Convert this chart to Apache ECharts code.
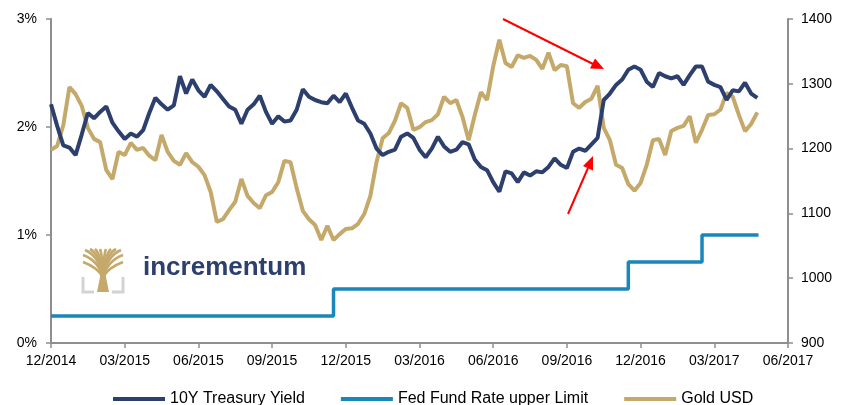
<!DOCTYPE html>
<html>
<head>
<meta charset="utf-8">
<script src="https://cdn.jsdelivr.net/npm/echarts@6/dist/echarts.min.js"></script>
<style>
  html, body { margin: 0; padding: 0; background: #fff; }
  #chart { width: 845px; height: 405px; }
</style>
</head>
<body>
<div id="chart"></div>
<script>
// x is counted in months from 12/2014, one sample every quarter month
const step = 0.25

const treasury = [
  2.21, 2.01, 1.83, 1.81, 1.74, 1.93, 2.13, 2.08, 2.14, 2.19,
  2.04, 1.96, 1.89, 1.94, 1.91, 1.97, 2.13, 2.27, 2.21, 2.16,
  2.20, 2.47, 2.31, 2.44, 2.34, 2.28, 2.39, 2.33, 2.26, 2.19,
  2.16, 2.03, 2.16, 2.21, 2.29, 2.14, 2.03, 2.10, 2.05, 2.06,
  2.16, 2.35, 2.28, 2.25, 2.23, 2.22, 2.29, 2.23, 2.31, 2.18,
  2.06, 2.03, 1.94, 1.80, 1.74, 1.77, 1.79, 1.91, 1.94, 1.90,
  1.79, 1.72, 1.80, 1.91, 1.82, 1.77, 1.79, 1.86, 1.84, 1.70,
  1.63, 1.60, 1.49, 1.40, 1.59, 1.57, 1.49, 1.58, 1.55, 1.59,
  1.58, 1.63, 1.71, 1.65, 1.62, 1.77, 1.80, 1.78, 1.84, 1.90,
  2.25, 2.31, 2.39, 2.44, 2.53, 2.56, 2.53, 2.42, 2.37, 2.50,
  2.47, 2.45, 2.47, 2.39, 2.48, 2.56, 2.56, 2.42, 2.39, 2.37,
  2.25, 2.34, 2.33, 2.41, 2.31, 2.27
]

const gold = [
  1198, 1204, 1236, 1295, 1284, 1266, 1232, 1215, 1210, 1167,
  1153, 1195, 1190, 1209, 1198, 1201, 1189, 1182, 1221, 1195,
  1181, 1175, 1193, 1179, 1172, 1159, 1133, 1087, 1091, 1105,
  1118, 1153, 1127, 1116, 1108, 1128, 1133, 1148, 1181, 1179,
  1139, 1104, 1091, 1082, 1059, 1081, 1059, 1068, 1076, 1077,
  1084, 1099, 1127, 1179, 1216, 1224, 1243, 1270, 1263, 1229,
  1233, 1241, 1244, 1253, 1280, 1270, 1275, 1249, 1213, 1252,
  1287, 1275, 1327, 1368, 1332, 1326, 1344, 1340, 1343, 1337,
  1323, 1348, 1321, 1329, 1327, 1270, 1263, 1272, 1277, 1297,
  1232, 1213, 1175, 1170, 1145, 1135, 1147, 1175, 1213, 1215,
  1190, 1227, 1232, 1235, 1250, 1209, 1229, 1252, 1253, 1260,
  1286, 1280, 1252, 1227, 1238, 1256
]

// fed fund upper limit: [month, rate]
const fedMonths = [0, 11.5, 23.5, 26.5, 28.8]
const fedRates = [0.25, 0.5, 0.75, 1.0, 1.0]

const leftTicks = { min: 0, max: 3, interval: 1 }
const rightTicks = { min: 900, max: 1400, interval: 100 }
const monthRange = { min: 0, max: 30, interval: 3 }

const names = ['10Y Treasury Yield', 'Fed Fund Rate upper Limit', 'Gold USD']
const colors = { treasury: '#2c3f6d', fed: '#1a87ba', gold: '#c5a96b' }

const monthLabel = (v) => {
  const k = 11 + Math.round(v)
  const m = (k % 12) + 1
  const y = 2014 + Math.floor(k / 12)
  return (m < 10 ? '0' + m : m) + '/' + y
}

const axisGray = '#8f8f8f'
const font = 'Liberation Sans, Arial, sans-serif'

const chart = echarts.init(document.getElementById('chart'))

// tree logo pieces, drawn as annotation graphics
const trunkX = 103, trunkY = 278
const branchEnds = [
  [83, 262], [83, 255], [85, 250], [90, 249], [95, 249], [100, 249],
  [106, 249], [111, 249], [116, 249], [121, 250], [123, 255], [123, 262]
]
const logo = branchEnds.map(p => ({
  type: 'bezierCurve',
  shape: {
    x1: trunkX, y1: trunkY, x2: p[0], y2: p[1],
    cpx1: trunkX + (p[0] - trunkX) * 0.2, cpy1: p[1] + 6
  },
  style: { stroke: colors.gold, lineWidth: 2.6, fill: null }
}))
logo.push(
  {
    type: 'polygon',
    shape: { points: [[97, 292], [109, 292], [107, 282], [105, 272], [101, 272], [99, 282]] },
    style: { fill: colors.gold }
  },
  {
    type: 'polyline',
    shape: { points: [[83, 277], [83, 292], [94, 292]] },
    style: { stroke: '#d3d3d3', lineWidth: 3, fill: null }
  },
  {
    type: 'polyline',
    shape: { points: [[123, 277], [123, 292], [112, 292]] },
    style: { stroke: '#d3d3d3', lineWidth: 3, fill: null }
  },
  {
    type: 'text',
    left: 143,
    top: 255,
    style: {
      text: 'incrementum',
      fontSize: 26,
      fontWeight: 'bold',
      fontFamily: font,
      fill: colors.treasury
    }
  }
)

const arrows = [
  { type: 'line', shape: { x1: 503, y1: 19, x2: 593, y2: 64 }, style: { stroke: '#ff0000', lineWidth: 2 } },
  { type: 'polygon', shape: { points: [[604, 69], [590, 68.5], [595, 58.5]] }, style: { fill: '#ff0000' } },
  { type: 'line', shape: { x1: 568, y1: 214, x2: 588, y2: 168 }, style: { stroke: '#ff0000', lineWidth: 2 } },
  { type: 'polygon', shape: { points: [[593, 156], [593, 170.5], [583, 166]] }, style: { fill: '#ff0000' } }
]

const option = {
  animation: false,
  backgroundColor: '#fff',
  grid: { left: 51, right: 57, top: 19, bottom: 62 },
  legend: {
    data: names,
    top: 386,
    left: 108,
    icon: 'rect',
    itemWidth: 52,
    itemHeight: 4,
    itemGap: 36,
    textStyle: { fontSize: 16, color: '#000', fontFamily: font }
  },
  xAxis: {
    type: 'value',
    min: monthRange.min,
    max: monthRange.max,
    interval: monthRange.interval,
    splitLine: { show: false },
    axisLine: { lineStyle: { color: axisGray, width: 2 } },
    axisTick: { show: true, length: 5, lineStyle: { color: axisGray, width: 1.5 } },
    axisLabel: {
      color: '#000',
      fontSize: 14,
      fontFamily: font,
      margin: 11,
      formatter: monthLabel
    }
  },
  yAxis: [
    {
      type: 'value',
      position: 'left',
      min: leftTicks.min,
      max: leftTicks.max,
      interval: leftTicks.interval,
      splitLine: { show: false },
      axisLine: { show: true, lineStyle: { color: axisGray, width: 2 } },
      axisTick: { show: true, length: 5, lineStyle: { color: axisGray, width: 1.5 } },
      axisLabel: { color: '#000', fontSize: 14, fontFamily: font, margin: 14, formatter: '{value}%' }
    },
    {
      type: 'value',
      position: 'right',
      min: rightTicks.min,
      max: rightTicks.max,
      interval: rightTicks.interval,
      splitLine: { show: false },
      axisLine: { show: true, lineStyle: { color: axisGray, width: 2 } },
      axisTick: { show: true, length: 5, lineStyle: { color: axisGray, width: 1.5 } },
      axisLabel: { color: '#000', fontSize: 14, fontFamily: font, margin: 13, formatter: (v) => String(v) }
    }
  ],
  series: [
    {
      name: names[2],
      type: 'line',
      yAxisIndex: 1,
      data: gold.map((v, i) => [i * step, v]),
      showSymbol: false,
      lineStyle: { color: colors.gold, width: 4 },
      itemStyle: { color: colors.gold }
    },
    {
      name: names[1],
      type: 'line',
      step: 'end',
      data: fedMonths.map((m, i) => [m, fedRates[i]]),
      showSymbol: false,
      lineStyle: { color: colors.fed, width: 3.5 },
      itemStyle: { color: colors.fed }
    },
    {
      name: names[0],
      type: 'line',
      data: treasury.map((v, i) => [i * step, v]),
      showSymbol: false,
      lineStyle: { color: colors.treasury, width: 4 },
      itemStyle: { color: colors.treasury }
    }
  ],
  graphic: logo.concat(arrows)
}

chart.setOption(option)
</script>
</body>
</html>
